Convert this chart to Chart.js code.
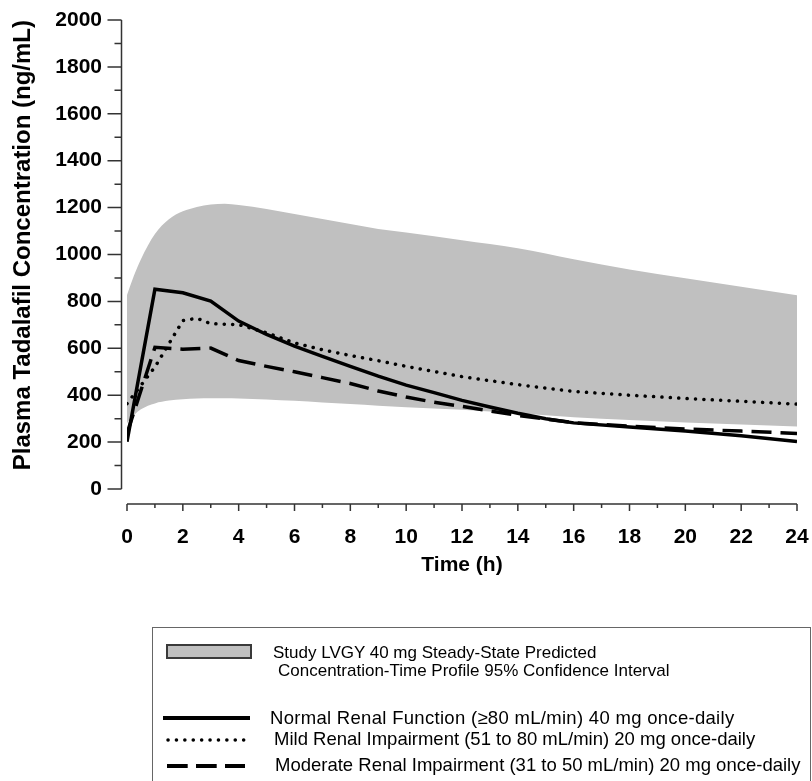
<!DOCTYPE html>
<html>
<head>
<meta charset="utf-8">
<script src="https://cdn.jsdelivr.net/npm/chart.js@4.4.0/dist/chart.umd.min.js"></script>
<style>
  html, body { margin: 0; padding: 0; background: #fff; }
  body { width: 812px; height: 781px; position: relative; overflow: hidden; font-family: "Liberation Sans", Arial, sans-serif; }
  #chart { position: absolute; left: 0; top: 0; }
  #legend { position: absolute; left: 152px; top: 627px; width: 659px; height: 180px; border: 1px solid #666; box-sizing: border-box; }
  #legend .txt { position: absolute; white-space: nowrap; color: #000; line-height: 1; }
  #legend .small { font-size: 17px; }
  #legend .big { font-size: 18.5px; }
  #legend svg { position: absolute; overflow: visible; }
  .swatch { position: absolute; left: 13px; top: 16px; width: 86px; height: 15px; background: #c0c0c0; border: 2px solid #3a3a3a; box-sizing: border-box; }
</style>
</head>
<body>
<canvas id="chart" width="812" height="781"></canvas>

<div id="legend">
  <div class="swatch"></div>
  <div class="txt small" style="left:120px; top:16px;">Study LVGY 40 mg Steady-State Predicted</div>
  <div class="txt small" style="left:125px; top:34px;">Concentration-Time Profile 95% Confidence Interval</div>

  <svg style="left:10px; top:85px;" width="90" height="10"><line x1="0" y1="5" x2="87" y2="5" stroke="#000" stroke-width="4"/></svg>
  <div class="txt big" style="left:117px; top:81px; letter-spacing:0.3px;">Normal Renal Function (≥80 mL/min) 40 mg once-daily</div>

  <svg style="left:13px; top:107px;" width="90" height="10"><line x1="2" y1="5" x2="86" y2="5" stroke="#000" stroke-width="3.5" stroke-linecap="round" stroke-dasharray="0.1 8.3"/></svg>
  <div class="txt big" style="left:121px; top:102px;">Mild Renal Impairment (51 to 80 mL/min) 20 mg once-daily</div>

  <svg style="left:14px; top:133px;" width="90" height="10"><line x1="0" y1="5" x2="78" y2="5" stroke="#000" stroke-width="4" stroke-dasharray="20.7 8.3"/></svg>
  <div class="txt big" style="left:122px; top:128px;">Moderate Renal Impairment (31 to 50 mL/min) 20 mg once-daily</div>
</div>

<script>
// 95% CI band (Study LVGY 40 mg steady-state)
const bandTimes = [0, 0.25, 0.5, 1, 1.5, 2, 2.5, 3, 3.5, 4, 5, 6, 7, 8, 9, 10, 12, 14, 16, 18, 20, 22, 24];
const bandUpper = [827, 910, 980, 1087, 1150, 1184, 1203, 1213, 1216, 1211, 1194, 1173, 1151, 1130, 1109, 1094, 1061, 1027, 980, 936, 899, 863, 826];
const bandLower = [281, 315, 340, 365, 377, 383, 386, 387, 387, 386, 382, 376, 369, 362, 355, 349, 338, 323, 306, 294, 284, 275, 266];

// Normal renal function 40 mg
const normalTimes = [0, 1, 2, 3, 4, 5, 6, 7, 8, 9, 10, 11, 12, 13, 14, 15, 16, 18, 20, 22, 24];
const normalConc = [202, 852, 837, 801, 716, 659, 609, 566, 523, 481, 443, 411, 378, 350, 323, 300, 282, 264, 247, 227, 203];

// Mild renal impairment 20 mg
const mildTimes = [0, 1, 2, 2.5, 3, 4, 5, 6, 7, 8, 9, 10, 12, 14, 16, 18, 20, 22, 24];
const mildConc = [364, 520, 718, 728, 705, 701, 666, 623, 594, 569, 547, 523, 479, 445, 416, 400, 386, 374, 362];

// Moderate renal impairment 20 mg
const moderateTimes = [0, 1, 2, 3, 4, 5, 6, 7, 8, 9, 10, 11, 12, 13, 14, 16, 18, 20, 22, 24];
const moderateConc = [237, 604, 596, 601, 548, 523, 500, 475, 450, 418, 392, 370, 352, 333, 314, 283, 268, 256, 247, 237];

const xTickLabels = [0, 2, 4, 6, 8, 10, 12, 14, 16, 18, 20, 22, 24];

const fontFamily = '"Liberation Sans", Arial, sans-serif';
const toXY = (xs, ys) => xs.map((x, i) => ({ x: x, y: ys[i] }));

// axis lines drawn offset from the data area, like the original figure
const axisLines = {
  id: 'axisLines',
  afterDraw(chart) {
    const ctx = chart.ctx;
    const xs = chart.scales.x, ys = chart.scales.y;
    const ax = xs.getPixelForValue(0) - 5.5;
    const ay = ys.getPixelForValue(0) + 15;
    ctx.save();
    ctx.strokeStyle = '#333';
    ctx.lineWidth = 1.5;
    ctx.beginPath();
    ctx.moveTo(ax, ys.getPixelForValue(0));
    ctx.lineTo(ax, ys.getPixelForValue(2000));
    for (let v = 0; v <= 2000; v += 100) {
      const y = ys.getPixelForValue(v);
      ctx.moveTo(ax - (v % 200 === 0 ? 14 : 7), y);
      ctx.lineTo(ax, y);
    }
    ctx.moveTo(xs.getPixelForValue(0), ay);
    ctx.lineTo(xs.getPixelForValue(24), ay);
    for (let h = 0; h <= 24; h++) {
      const x = xs.getPixelForValue(h);
      ctx.moveTo(x, ay);
      ctx.lineTo(x, ay + (h % 2 === 0 ? 7 : 4));
    }
    ctx.stroke();
    ctx.restore();
  }
};

new Chart(document.getElementById('chart'), {
  type: 'line',
  data: {
    datasets: [
      { label: 'Normal', data: toXY(normalTimes, normalConc), borderColor: '#000', borderWidth: 3.5, pointRadius: 0, fill: false, tension: 0 },
      { label: 'Mild', data: toXY(mildTimes, mildConc), borderColor: '#000', borderWidth: 3.5, borderDash: [0.1, 8.3], borderCapStyle: 'round', pointRadius: 0, fill: false, tension: 0 },
      { label: 'Moderate', data: toXY(moderateTimes, moderateConc), borderColor: '#000', borderWidth: 3.5, borderDash: [20, 9], pointRadius: 0, fill: false, tension: 0 },
      { label: 'CI upper', data: toXY(bandTimes, bandUpper), borderWidth: 0, borderColor: 'rgba(0,0,0,0)', backgroundColor: '#c0c0c0', pointRadius: 0, fill: '+1', cubicInterpolationMode: 'monotone' },
      { label: 'CI lower', data: toXY(bandTimes, bandLower), borderWidth: 0, borderColor: 'rgba(0,0,0,0)', pointRadius: 0, fill: false, cubicInterpolationMode: 'monotone' }
    ]
  },
  options: {
    responsive: false,
    animation: false,
    layout: { padding: { top: 20, right: 15, bottom: 197, left: 0 } },
    plugins: { legend: { display: false }, tooltip: { enabled: false } },
    scales: {
      x: {
        type: 'linear', min: 0, max: 24,
        afterBuildTicks: s => { s.ticks = xTickLabels.map(v => ({ value: v })); },
        afterFit: s => { s.height = 95; },
        grid: { display: false, drawTicks: true, tickLength: 33 },
        border: { display: false },
        ticks: { autoSkip: false, maxRotation: 0, padding: 3, color: '#000', font: { family: fontFamily, size: 21, weight: 'bold' } },
        title: { display: true, text: 'Time (h)', color: '#000', font: { family: fontFamily, size: 21, weight: 'bold' }, padding: { top: 0, bottom: 6 } }
      },
      y: {
        min: 0, max: 2000,
        afterFit: s => { s.width = 127; },
        grid: { display: false, drawTicks: true, tickLength: 22 },
        border: { display: false },
        ticks: { stepSize: 200, padding: 3, color: '#000', font: { family: fontFamily, size: 21, weight: 'bold' }, callback: v => String(v) },
        title: { display: true, text: 'Plasma Tadalafil Concentration (ng/mL)', align: 'end', color: '#000', font: { family: fontFamily, size: 24, weight: 'bold' }, padding: { top: 9, bottom: 0 } }
      }
    }
  },
  plugins: [axisLines]
});
</script>
</body>
</html>
